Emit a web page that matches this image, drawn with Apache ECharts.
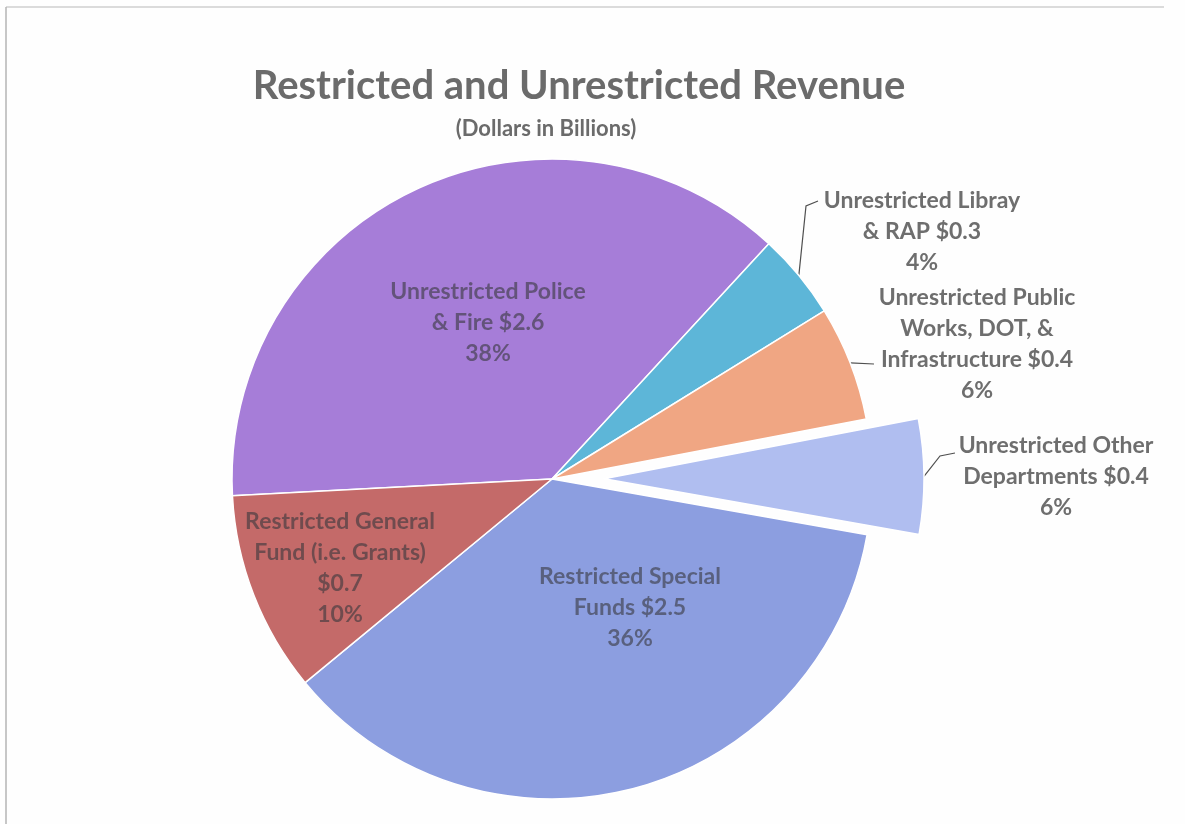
<!DOCTYPE html>
<html>
<head>
<meta charset="utf-8">
<title>Restricted and Unrestricted Revenue</title>
<script src="https://cdn.jsdelivr.net/npm/echarts@6/dist/echarts.min.js"></script>
<style>
  html, body { margin: 0; padding: 0; background: #fefefe; }
  #chart { width: 1185px; height: 824px; }
</style>
</head>
<body>
<div id="chart"></div>
<script>
// Revenue categories (line breaks follow the label wrapping)
const categories = [
  'Unrestricted Police\n& Fire',
  'Unrestricted Libray\n& RAP',
  'Unrestricted Public\nWorks, DOT, &\nInfrastructure',
  'Unrestricted Other\nDepartments',
  'Restricted Special\nFunds',
  'Restricted General\nFund (i.e. Grants)\n'
];
// Revenue, dollars in billions
const revenue = [2.6, 0.3, 0.4, 0.4, 2.5, 0.7];
// Which slice is pulled out of the pie
const explodedIndex = 3;
// Slices whose labels sit outside with a leader line
const outsideLabels = [false, true, true, true, false, false];

const sliceColors = ['#a67dd8', '#5db6d8', '#f0a683', '#b0bef0', '#8c9ee0', '#c46a69'];
// Label block centres (px)
const labelCentres = [
  [488, 323], [922, 232], [977, 344], [1056, 477], [630, 608], [340, 568]
];
// Bend points of the leader lines, after the point on the slice edge
const leaderBends = {
  1: [[806, 206], [818, 201]],
  2: [[874, 364]],
  3: [[940, 456], [955, 453]]
};

const CENTER = [552, 479];
const RADIUS = 320;
const START_ANGLE = 183;
const EXPLODE = 52;

// Direction of the pulled-out slice: middle of its arc, going clockwise from START_ANGLE
const total = revenue.reduce((a, b) => a + b, 0);
const before = revenue.slice(0, explodedIndex).reduce((a, b) => a + b, 0);
const midDeg = START_ANGLE - (before + revenue[explodedIndex] / 2) / total * 360;
const midRad = midDeg * Math.PI / 180;
const explodedCenter = [
  CENTER[0] + EXPLODE * Math.cos(midRad),
  CENTER[1] - EXPLODE * Math.sin(midRad)
];

const FONT = 'Lato, "Open Sans", sans-serif';

function labelText(p) {
  const sep = p.name.endsWith('\n') ? '' : ' ';
  return p.name + sep + '$' + p.value.toFixed(1) + '\n' + p.percent + '%';
}

// visibleFn decides which slices a series paints
function buildData(visibleFn) {
  return categories.map((name, i) => {
    const visible = visibleFn(i);
    return {
      name: name,
      value: revenue[i],
      itemStyle: visible
        ? { color: sliceColors[i], borderColor: '#ffffff', borderWidth: 1.5 }
        : { color: 'rgba(0,0,0,0)', borderWidth: 0 },
      label: {
        show: visible,
        position: outsideLabels[i] ? 'outside' : 'inside',
        color: outsideLabels[i] ? '#6e6e6e' : 'rgba(55,55,60,0.6)'
      },
      labelLine: { show: visible && outsideLabels[i] }
    };
  });
}

function pieSeries(center, visibleFn) {
  return {
    type: 'pie',
    center: center,
    radius: RADIUS,
    startAngle: START_ANGLE,
    clockwise: true,
    percentPrecision: 0,
    avoidLabelOverlap: false,
    silent: true,
    emphasis: { disabled: true },
    label: {
      fontFamily: FONT,
      fontWeight: 'bold',
      fontSize: 23,
      lineHeight: 31,
      align: 'center',
      formatter: labelText
    },
    labelLine: {
      length: 12,
      length2: 10,
      lineStyle: { color: '#505050', width: 1.2 }
    },
    labelLayout: function (params) {
      const i = params.dataIndex;
      const c = labelCentres[i];
      const out = { x: c[0], y: c[1], align: 'center', verticalAlign: 'middle' };
      if (leaderBends[i] && params.labelLinePoints) {
        out.labelLinePoints = [params.labelLinePoints[0]].concat(leaderBends[i]);
      }
      return out;
    },
    data: buildData(visibleFn)
  };
}

const chart = echarts.init(document.getElementById('chart'), null, { renderer: 'canvas' });

chart.setOption({
  backgroundColor: '#fefefe',
  animation: false,
  graphic: [
    { type: 'line', silent: true, shape: { x1: 6, y1: 7, x2: 1164, y2: 7 },
      style: { stroke: '#cfcfcf', lineWidth: 1.5 } },
    { type: 'line', silent: true, shape: { x1: 6, y1: 7, x2: 6, y2: 824 },
      style: { stroke: '#b4b4b4', lineWidth: 1.5 } },
    { type: 'text', silent: true,
      style: { text: 'Restricted and Unrestricted Revenue', x: 579, y: 86,
        textAlign: 'center', textVerticalAlign: 'middle',
        font: 'bold 40px ' + FONT, fill: '#6b6b6b' } },
    { type: 'text', silent: true,
      style: { text: '(Dollars in Billions)', x: 546, y: 129,
        textAlign: 'center', textVerticalAlign: 'middle',
        font: 'bold 22px ' + FONT, fill: '#6b6b6b' } }
  ],
  series: [
    // the pie itself, with a gap where the pulled-out slice was
    pieSeries(CENTER, i => i !== explodedIndex),
    // the pulled-out slice, drawn on a shifted centre
    pieSeries(explodedCenter, i => i === explodedIndex)
  ]
});
</script>
</body>
</html>
